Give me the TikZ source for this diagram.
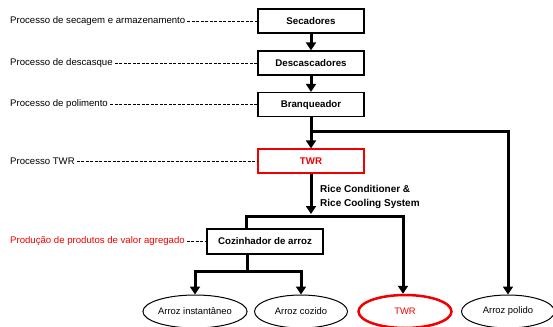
\documentclass[tikz,border=0pt]{standalone}
\usepackage{fontspec}
\setmainfont{Liberation Sans}
\usetikzlibrary{arrows.meta,shapes.geometric}
\definecolor{twrred}{RGB}{240,0,0}

\begin{document}
\begin{tikzpicture}[x=1pt,y=-1pt,
    etapa/.style={draw,line width=1.3pt,minimum width=106pt,minimum height=24pt,inner sep=0pt,
                  font=\fontsize{9.7}{11}\selectfont\bfseries},
    produto/.style={ellipse,draw,line width=1pt,minimum width=93pt,minimum height=33pt,inner sep=0pt,
                  font=\fontsize{9.4}{11}\selectfont},
    fluxo/.style={line width=3pt,-{Triangle[width=10pt,length=8pt]}},
    traco/.style={line width=3pt},
    processo/.style={anchor=west,inner xsep=2pt,inner ysep=0pt,font=\fontsize{9.6}{11}\selectfont},
    guia/.style={dash pattern=on 3pt off 1.5pt,line width=0.6pt}]
  \clip (0,0) rectangle (553,326);
   \coordinate (ramo) at (311,131);
   \coordinate (junta) at (311,214);
   \coordinate (esq) at (246,216);
   \coordinate (dir) at (403,216);
   \coordinate (baixo) at (247,271);
% etapas do processo
  \node[etapa] (sec) at (311,21) {Secadores};
  \node[etapa] (desc) at (311,63) {Descascadores};
  \node[etapa] (branq) at (311,104.5) {Branqueador};
  \node[etapa,draw=twrred,text=twrred] (twr) at (311,161) {TWR};
  \node[etapa,minimum width=116pt,minimum height=25pt] (coz) at (265,241.5) {Cozinhador de arroz};
% produtos finais
  \node[produto] (inst) at (195,311.5) {Arroz instantâneo};
  \node[produto] (cozido) at (301,311.5) {Arroz cozido};
  \node[produto,draw=twrred,text=twrred,line width=2.5pt] (twrprod) at (405,311.5) {TWR};
  \node[produto] (polido) at (508,311.5) {Arroz polido};
  \node[anchor=west,align=left,inner sep=0pt,font=\fontsize{10}{14}\selectfont\bfseries] (rcs) at (320,197)
       {Rice Conditioner \&\\Rice Cooling System};
% nomes dos processos, a esquerda
  \foreach \nome/\alvo/\cor/\txt in {p1/sec/black/Processo de secagem e armazenamento,
                                     p2/desc/black/Processo de descasque,
                                     p3/branq/black/Processo de polimento,
                                     p4/twr/black/Processo TWR,
                                     p5/coz/twrred/Produção de produtos de valor agregado}{%
    \node[processo,text=\cor] (\nome) at (8,0 |- \alvo) {\txt};
    \draw[guia] (\nome) -- (\alvo);
  }
% fluxo
  \draw[fluxo] (sec) -- (desc);
  \draw[fluxo] (desc) -- (branq);
  \draw[fluxo] (branq) -- (twr);
  \draw[fluxo] (ramo) -| (polido);
  \draw[fluxo] (twr) -- (junta);
  \draw[fluxo] (coz.north -| esq) |- (dir) -- (dir |- twrprod.north);
  \draw[traco] (coz.south -| baixo) -- (baixo);
  \draw[fluxo] (baixo) -| (inst);
  \draw[fluxo] (baixo) -| (cozido);
 \end{tikzpicture}
\end{document}
